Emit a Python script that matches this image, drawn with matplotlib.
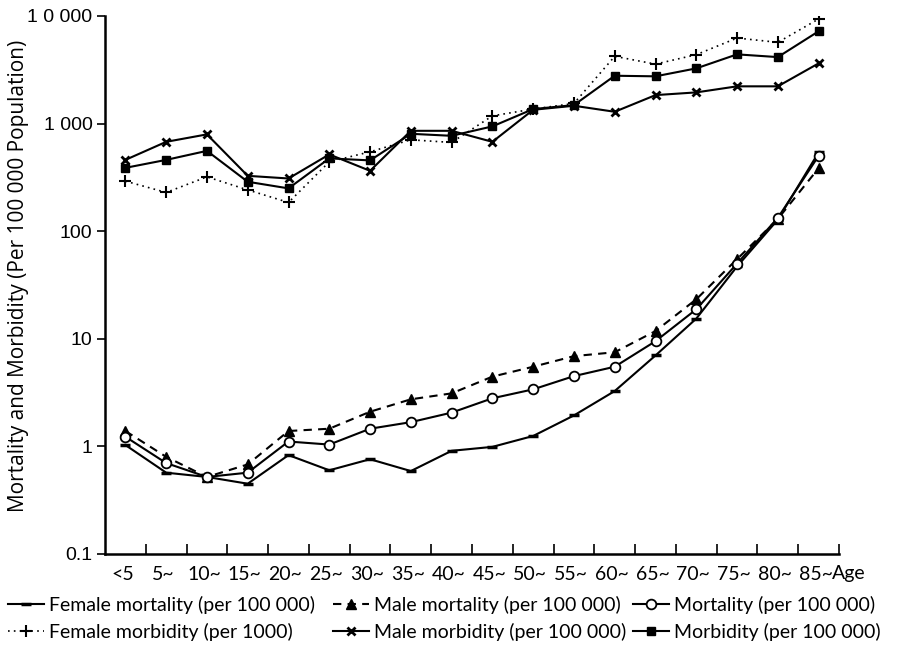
import matplotlib
matplotlib.use("Agg")
import matplotlib.pyplot as plt
import matplotlib.transforms as mtransforms
import numpy as np

plt.rcParams['font.family'] = ['Lato', 'DejaVu Sans']

ages = ["<5", "5~", "10~", "15~", "20~", "25~", "30~", "35~", "40~", "45~",
        "50~", "55~", "60~", "65~", "70~", "75~", "80~", "85~"]

female_mortality = [1.03, 0.57, 0.52, 0.45, 0.83, 0.60, 0.76, 0.59, 0.91, 0.99,
                    1.25, 1.94, 3.27, 7.0, 15.4, 47, 128, 540]
male_mortality = [1.39, 0.80, 0.52, 0.68, 1.39, 1.46, 2.10, 2.74, 3.11, 4.45,
                  5.5, 6.9, 7.5, 11.8, 23.3, 55, 130, 385]
mortality = [1.23, 0.70, 0.52, 0.57, 1.11, 1.04, 1.46, 1.68, 2.06, 2.80,
             3.39, 4.5, 5.5, 9.5, 18.8, 50, 133, 502]
female_morbidity = [292, 229, 320, 242, 185, 441, 547, 707, 668, 1180,
                    1365, 1540, 4220, 3570, 4370, 6240, 5690, 9380]
male_morbidity = [460, 677, 794, 327, 309, 517, 364, 857, 857, 677,
                  1344, 1465, 1288, 1840, 1950, 2220, 2220, 3630]
morbidity = [388, 460, 558, 288, 250, 475, 455, 804, 770, 942,
             1365, 1486, 2785, 2750, 3260, 4400, 4150, 7210]

ytick_vals = [0.1, 1, 10, 100, 1000, 10000]
ytick_labels = ["0.1", "1", "10", "100", "1 000", "1 0 000"]

W, H = 898, 647
fig = plt.figure(figsize=(W / 100, H / 100), dpi=100)
ax = fig.add_axes([105 / W, 1 - 554 / H, (839 - 105) / W, (554 - 16) / H])

x = np.arange(len(ages))
lw = 1.5
h_fmort, = ax.plot(x, female_mortality, color='black', lw=lw, marker='_', ms=7, mew=2.5)
h_mmort, = ax.plot(x, male_mortality, color='black', lw=lw, ls=(0, (4, 3)), marker='^', ms=7)
h_mort, = ax.plot(x, mortality, color='black', lw=lw, marker='o', ms=7, mfc='white', mec='black', mew=1.3)
h_fmorb, = ax.plot(x, female_morbidity, color='black', lw=1.2, ls=(0, (1, 2.5)), marker='+', ms=8, mew=1.5)
h_mmorb, = ax.plot(x, male_morbidity, color='black', lw=lw, marker='x', ms=6, mew=2)
h_morb, = ax.plot(x, morbidity, color='black', lw=lw, marker='s', ms=6)

ax.set_yscale('log')
ax.set_ylim(0.1, 10000)
ax.set_xlim(-0.5, len(ages) - 0.5)
ax.set_yticks(ytick_vals)
ax.set_yticklabels(ytick_labels, family=['Liberation Sans', 'DejaVu Sans'], fontsize=14)
ax.yaxis.set_minor_locator(matplotlib.ticker.NullLocator())
ax.set_xticks(x)
ax.set_xticklabels(ages, fontsize=14)
ax.tick_params(axis='x', length=0, pad=9)
ax.set_xticks(np.arange(0.5, len(ages), 1.0), minor=True)
ax.tick_params(axis='x', which='minor', direction='in', length=7, width=1.2)
ax.tick_params(axis='y', direction='out', length=6, width=1.2, pad=3)
shift = mtransforms.ScaledTranslation(-3 / 100, 0, fig.dpi_scale_trans)
for lab in ax.get_xticklabels():
    lab.set_transform(lab.get_transform() + shift)
for s in ['top', 'right']:
    ax.spines[s].set_visible(False)
for s in ['left', 'bottom']:
    ax.spines[s].set_linewidth(1.8)

fig.text(19 / W, 1 - 276 / H, "Mortality and Morbidity (Per 100 000 Population)",
         fontsize=15, rotation=90, va='center', ha='center',
         family=['Open Sans', 'DejaVu Sans'])
fig.text(832 / W, 1 - 573 / H, "Age", fontsize=14, va='center', ha='left')

leg_kw = dict(frameon=False, fontsize=14, handlelength=1.85, handletextpad=0.25,
              labelspacing=0.45, borderpad=0, borderaxespad=0, loc='upper left')
fig.legend(handles=[h_fmort, h_fmorb],
           labels=["Female mortality (per 100 000)", "Female morbidity (per 1000)"],
           bbox_to_anchor=(8 / W, 1 - 596 / H), **leg_kw)
fig.legend(handles=[h_mmort, h_mmorb],
           labels=["Male mortality (per 100 000)", "Male morbidity (per 100 000)"],
           bbox_to_anchor=(333 / W, 1 - 596 / H), **leg_kw)
fig.legend(handles=[h_mort, h_morb],
           labels=["Mortality (per 100 000)", "Morbidity (per 100 000)"],
           bbox_to_anchor=(633 / W, 1 - 596 / H), **leg_kw)

fig.savefig("out.png", dpi=100)
